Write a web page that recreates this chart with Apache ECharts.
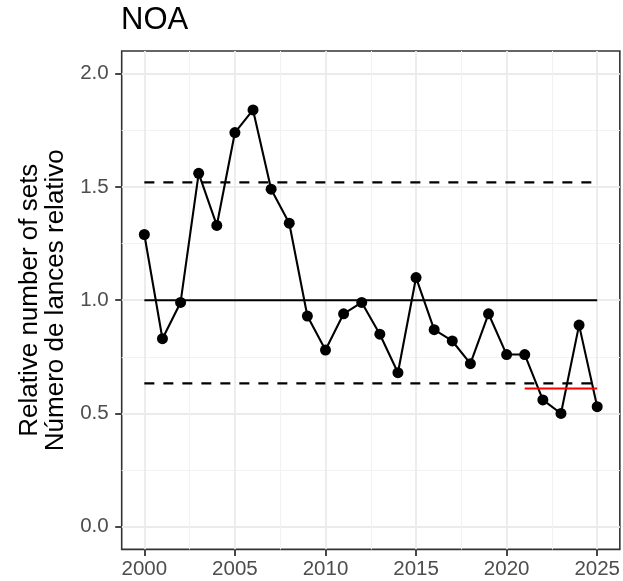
<!DOCTYPE html>
<html>
<head>
<meta charset="utf-8">
<script src="https://cdn.jsdelivr.net/npm/echarts@6/dist/echarts.min.js"></script>
<style>
html,body{margin:0;padding:0;background:#fff;}
#chart{width:623px;height:581px;}
</style>
</head>
<body>
<div id="chart"></div>
<script>
// ---- data ----
const years = [2000,2001,2002,2003,2004,2005,2006,2007,2008,2009,2010,2011,2012,2013,2014,2015,2016,2017,2018,2019,2020,2021,2022,2023,2024,2025];
const relSets = [1.29,0.83,0.99,1.56,1.33,1.74,1.84,1.49,1.34,0.93,0.78,0.94,0.99,0.85,0.68,1.10,0.87,0.82,0.72,0.94,0.76,0.76,0.56,0.50,0.89,0.53];
const meanLevel = 1.0;
const upperLevel = 1.52;
const lowerLevel = 0.633;
const recentYears = [2021, 2025];
const recentLevel = 0.61;
const xTicks = [2000,2005,2010,2015,2020,2025];
const yTicks = [0,0.5,1.0,1.5,2.0];
const titleText = 'NOA';
const yTitle = 'Relative number of sets\nNúmero de lances relativo';

// ---- styles ----
const FONT = '"Liberation Sans", Arial, sans-serif';
const GRID_MAJOR = '#EBEBEB';
const GRID_MINOR = '#F2F2F2';
const T = 'rgba(0,0,0,0)';
const xMin = 1998.75, xMax = 2026.25;
const yMin = -0.1, yMax = 2.1;

const chart = echarts.init(document.getElementById('chart'), null, {renderer: 'canvas'});

const hiddenAxisBase = {
  axisLine: {show: false, onZero: false}, axisTick: {show: false}, axisLabel: {show: false}
};

function hline(level, x0, x1, color, type) {
  return {
    type: 'line', xAxisIndex: 0, yAxisIndex: 0,
    data: [[x0, level], [x1, level]],
    symbol: 'none', silent: true, z: 3,
    lineStyle: {color: color, width: 2.1, type: type},
    animation: false
  };
}

const option = {
  animation: false,
  backgroundColor: '#fff',
  title: {
    text: titleText, left: 121, top: 5, padding: 0,
    textStyle: {fontFamily: FONT, fontSize: 31, fontWeight: 'normal', color: '#000'}
  },
  grid: {
    left: 121.7, right: 0.5, top: 51, bottom: 31.6,
    show: true, borderColor: '#333333', borderWidth: 1.6, backgroundColor: '#fff',
    containLabel: false
  },
  xAxis: [
    {
      type: 'value', min: xMin, max: xMax, position: 'bottom',
      axisLine: {show: false, onZero: false},
      splitLine: {show: false},
      axisTick: {show: true, length: 6.5, lineStyle: {color: '#333333', width: 1.8}, customValues: xTicks},
      axisLabel: {show: true, customValues: xTicks, margin: 9, color: '#4D4D4D', fontFamily: FONT, fontSize: 20.5,
                  formatter: v => String(Math.round(v))}
    },
    Object.assign({type: 'value', min: xMin, max: xMax, interval: 1.25,
      splitLine: {show: true, lineStyle: {color: [T, GRID_MAJOR, T, T], width: 1.8}}}, hiddenAxisBase),
    Object.assign({type: 'value', min: xMin, max: xMax, interval: 1.25,
      splitLine: {show: true, lineStyle: {color: [T, T, T, GRID_MINOR], width: 1}}}, hiddenAxisBase)
  ],
  yAxis: [
    {
      type: 'value', min: yMin, max: yMax, position: 'left',
      axisLine: {show: false, onZero: false},
      splitLine: {show: false},
      axisTick: {show: true, length: 6.5, lineStyle: {color: '#333333', width: 1.8}, customValues: yTicks},
      axisLabel: {show: true, customValues: yTicks, margin: 13, color: '#4D4D4D', fontFamily: FONT, fontSize: 20.5,
                  formatter: v => v.toFixed(1)},
      name: yTitle, nameLocation: 'middle', nameRotate: 90, nameGap: 53,
      nameTextStyle: {fontFamily: FONT, fontSize: 26, color: '#000', lineHeight: 26, align: 'center'}
    },
    Object.assign({type: 'value', min: yMin, max: yMax, interval: 0.05,
      splitLine: {show: true, lineStyle: {color: [T,T,GRID_MAJOR,T,T,T,T,T,T,T], width: 1.8}}}, hiddenAxisBase),
    Object.assign({type: 'value', min: yMin, max: yMax, interval: 0.05,
      splitLine: {show: true, lineStyle: {color: [T,T,T,T,T,T,T,GRID_MINOR,T,T], width: 1}}}, hiddenAxisBase)
  ],
  series: [
    hline(meanLevel, years[0], years[years.length-1], '#000', 'solid'),
    hline(upperLevel, years[0], years[years.length-1], '#000', [10, 9]),
    hline(lowerLevel, years[0], years[years.length-1], '#000', [10, 9]),
    {
      type: 'line', xAxisIndex: 0, yAxisIndex: 0, z: 4,
      data: years.map((y, i) => [y, relSets[i]]),
      symbol: 'circle', symbolSize: 11, showSymbol: true,
      lineStyle: {color: '#000', width: 2.1},
      itemStyle: {color: '#000', borderWidth: 0},
      animation: false
    },
    Object.assign(hline(recentLevel, recentYears[0], recentYears[1], '#FF0000', 'solid'), {z: 5})
  ]
};
chart.setOption(option);
</script>
</body>
</html>
